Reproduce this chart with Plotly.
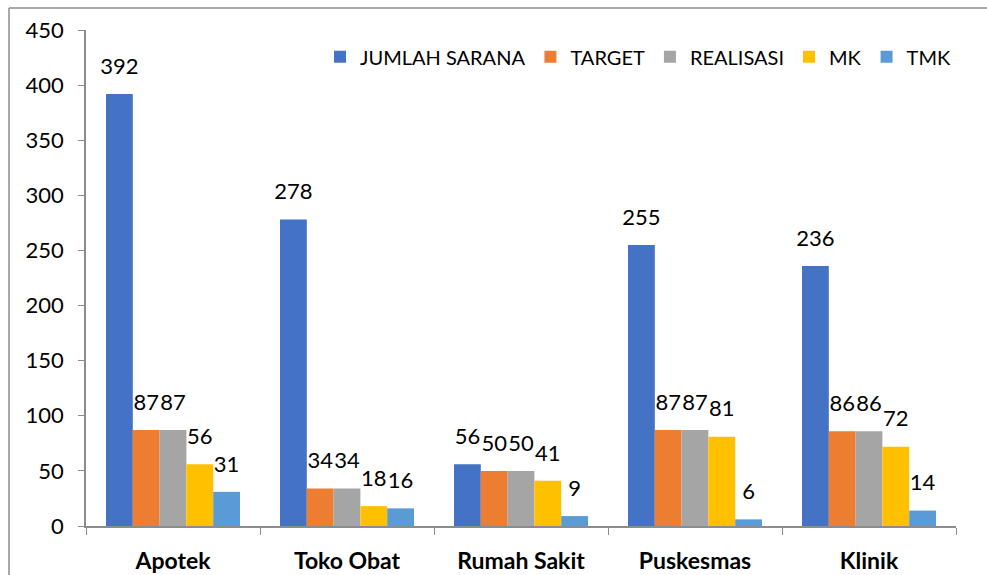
import plotly.graph_objs as go

categories = ["Apotek", "Toko Obat", "Rumah Sakit", "Puskesmas", "Klinik"]
series_names = ["JUMLAH SARANA", "TARGET", "REALISASI", "MK", "TMK"]
jumlah_sarana = [392, 278, 56, 255, 236]
target = [87, 34, 50, 87, 86]
realisasi = [87, 34, 50, 87, 86]
mk = [56, 18, 41, 81, 72]
tmk = [31, 16, 9, 6, 14]
y_ticks = [0, 50, 100, 150, 200, 250, 300, 350, 400, 450]

colors = ["#4472C4", "#ED7D31", "#A5A5A5", "#FFC000", "#5B9BD5"]
FONT = "Lato, 'Open Sans', sans-serif"

fig = go.Figure()
for name, vals, col in zip(series_names, [jumlah_sarana, target, realisasi, mk, tmk], colors):
    fig.add_trace(go.Bar(x=categories, y=vals, name=name, marker_color=col,
                         marker_line_width=0, offsetgroup=name))
# data labels: invisible markers push the text up a bit, like Excel does
for name, vals in zip(series_names, [jumlah_sarana, target, realisasi, mk, tmk]):
    fig.add_trace(go.Scatter(x=categories, y=vals, mode="markers+text", text=vals,
                             textposition="top center", offsetgroup=name,
                             marker=dict(size=22, opacity=0), showlegend=False,
                             textfont=dict(size=22, color="#000000"),
                             cliponaxis=False, hoverinfo="skip"))

# chart frame: only left and top edges are visible in the original crop
frame = dict(color="#8c8c8c", width=1.5)
shapes = [
    dict(type="line", xref="paper", yref="paper", x0=-0.0885, x1=-0.0885, y0=-0.3, y1=1.0444, line=frame),
    dict(type="line", xref="paper", yref="paper", x0=-0.0885, x1=1.2, y0=1.0444, y1=1.0444, line=frame),
]

fig.update_layout(
    width=987, height=575,
    margin=dict(l=86, r=31, t=30, b=49),
    paper_bgcolor="white", plot_bgcolor="white",
    font=dict(family=FONT, color="#000000"),
    barmode="group", bargap=0.23, bargroupgap=0,
    scattermode="group", scattergap=0.23,
    legend=dict(orientation="h", x=0.269, y=0.946, xanchor="left", yanchor="middle",
                font=dict(size=20), bgcolor="rgba(0,0,0,0)", itemwidth=30),
    shapes=shapes,
)
fig.update_xaxes(showline=True, linecolor="#8c8c8c", linewidth=1.5, ticks="outside",
                 tickson="boundaries", ticklen=7, tickcolor="#8c8c8c",
                 tickfont=dict(size=23, family=FONT, weight="bold"),
                 ticklabelstandoff=14, showgrid=False, automargin=False)
fig.update_yaxes(range=[0, 450], tickvals=y_ticks, showline=True, linecolor="#8c8c8c",
                 linewidth=1.5, ticks="outside", ticklen=6, tickcolor="#8c8c8c",
                 tickfont=dict(size=22), ticklabelstandoff=10, showgrid=False,
                 zeroline=False, automargin=False)

# drop the default body margin so the figure fills the window exactly
fig.write_html("out.html", config={"displayModeBar": False},
               post_script="document.body.style.margin='0';document.body.style.overflow='hidden';")
